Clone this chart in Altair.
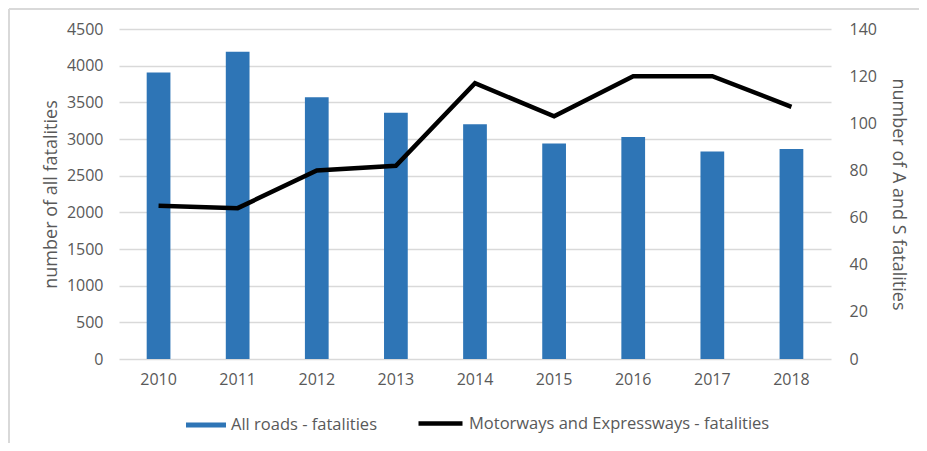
import altair as alt
import pandas as pd

years = ["2010", "2011", "2012", "2013", "2014", "2015", "2016", "2017", "2018"]
all_roads = [3908, 4189, 3571, 3357, 3202, 2938, 3026, 2831, 2862]
motorways = [65, 64, 80, 82, 117, 103, 120, 120, 107]
series_names = ["All roads - fatalities", "Motorways and Expressways - fatalities"]
left_ticks = [0, 500, 1000, 1500, 2000, 2500, 3000, 3500, 4000, 4500]
right_ticks = [0, 20, 40, 60, 80, 100, 120, 140]

df = pd.DataFrame({
    "year": years,
    "all": all_roads,
    "mw": motorways,
    "s1": [series_names[0]] * len(years),
    "s2": [series_names[1]] * len(years),
})

FONT = "Open Sans"
TXT = "#595959"
GRID = "#D9D9D9"
TICK_FS = 16
TITLE_FS = 18
LEG_FS = 16.5

x_enc = alt.X(
    "year:N",
    title=None,
    scale=alt.Scale(paddingInner=0.7, paddingOuter=0.35),
    axis=alt.Axis(labelAngle=0, ticks=False, domain=False, labelPadding=12,
                  labelFontSize=TICK_FS, labelColor=TXT, labelFont=FONT),
)

base = alt.Chart(df)

bars = base.mark_bar().encode(
    x=x_enc,
    y=alt.Y("all:Q", title="number of all fatalities",
            scale=alt.Scale(domain=[0, 4500], nice=False),
            axis=alt.Axis(values=left_ticks, format="d", grid=True, gridColor=GRID, gridWidth=1.5,
                          ticks=False, domain=False, labelPadding=16,
                          labelFontSize=TICK_FS, labelColor=TXT, labelFont=FONT,
                          titleFontSize=TITLE_FS, titleColor=TXT, titleFont=FONT,
                          titleFontWeight="normal", titlePadding=6)),
    color=alt.Color("s1:N", scale=alt.Scale(domain=[series_names[0]], range=["#2E75B6"]),
                    legend=alt.Legend(orient="none", legendX=67, legendY=376, title=None,
                                      symbolType="M-1,-0.125H1V0.125H-1Z", symbolSize=1600,
                                      symbolStrokeWidth=0, labelOffset=5, labelLimit=0,
                                      labelFontSize=LEG_FS, labelColor=TXT, labelFont=FONT,
                                      padding=0)),
)

line = base.mark_line(strokeWidth=4.5).encode(
    x=x_enc,
    y=alt.Y("mw:Q", title="number of A and S fatalities",
            scale=alt.Scale(domain=[0, 140], nice=False),
            axis=alt.Axis(orient="right", values=right_ticks, format="d", grid=False,
                          ticks=False, domain=False, labelPadding=18,
                          labelFontSize=TICK_FS, labelColor=TXT, labelFont=FONT,
                          titleFontSize=TITLE_FS, titleColor=TXT, titleFont=FONT,
                          titleFontWeight="normal", titlePadding=12)),
    stroke=alt.Stroke("s2:N", scale=alt.Scale(domain=[series_names[1]], range=["black"]),
                      legend=alt.Legend(orient="none", legendX=297, legendY=370, title=None,
                                        symbolType="stroke", symbolSize=1936,
                                        symbolStrokeWidth=4.5, labelOffset=4, labelLimit=0,
                                        labelFontSize=LEG_FS, labelColor=TXT, labelFont=FONT,
                                        padding=0)),
)

frame = alt.Chart(alt.Data(values=[{}])).mark_rule(color=GRID, strokeWidth=2)
frame_left = frame.encode(x=alt.value(-110), y=alt.value(-20), y2=alt.value(420))
frame_top = frame.encode(x=alt.value(-110), x2=alt.value(800), y=alt.value(-20))

chart = alt.layer(frame_left, frame_top, bars, line).resolve_scale(
    y="independent", color="independent", stroke="independent"
).properties(
    width=712, height=330,
    autosize=alt.AutoSizeParams(type="none"),
    padding={"left": 111, "top": 21, "right": 88, "bottom": 84},
).configure_view(stroke=None)

chart.save("out.html", embed_options={"renderer": "svg", "actions": False})
